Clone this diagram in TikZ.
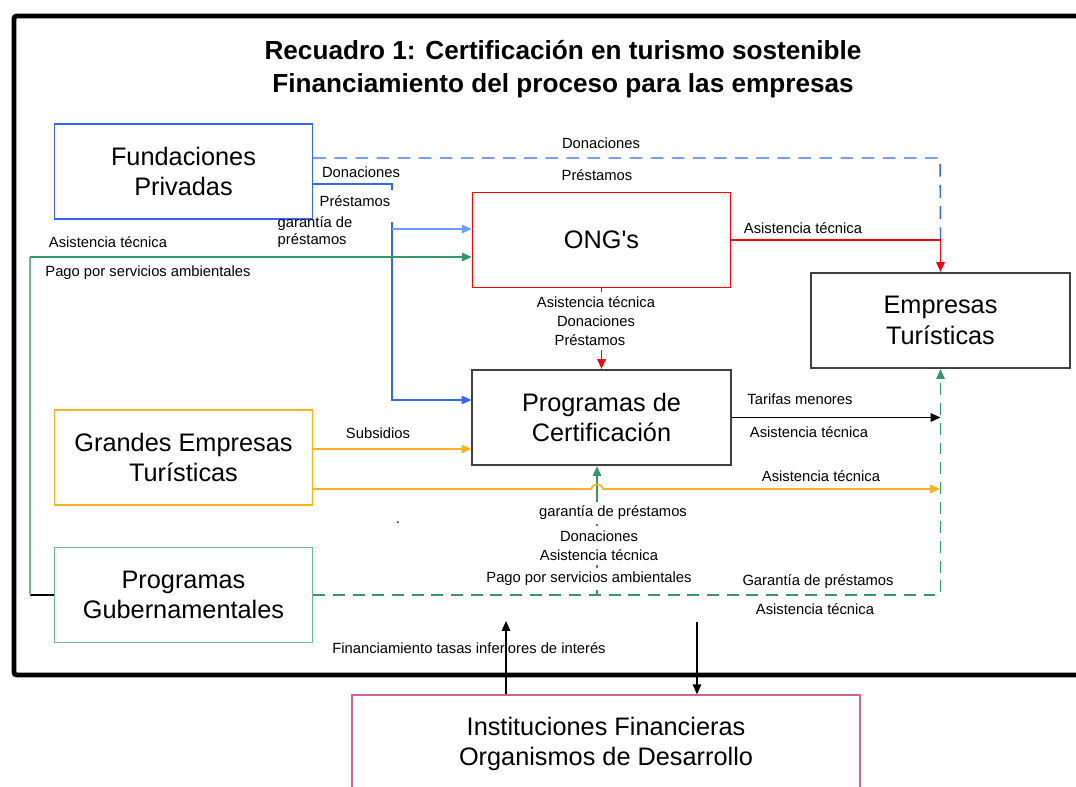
\documentclass[tikz,border=0pt]{standalone}
\usepackage{fontspec}
\setmainfont{Liberation Sans}
\usetikzlibrary{arrows.meta,calc,positioning}

\definecolor{fblue}{RGB}{51,102,255}
\definecolor{lblue}{RGB}{102,160,255}
\definecolor{ngred}{RGB}{255,0,0}
\definecolor{gorange}{RGB}{255,178,30}
\definecolor{ggreen}{RGB}{51,153,102}
\definecolor{lgreen}{RGB}{100,190,140}
\definecolor{boxgray}{RGB}{64,64,64}
\definecolor{ipink}{RGB}{204,102,153}

\tikzset{
    box/.style={draw, rectangle, minimum width=6.45cm, minimum height=2.38cm, align=center,
        inner sep=0pt, font=\fontsize{18}{21.5}\selectfont, line width=1pt},
    graybox/.style={box, draw=boxgray, line width=1.4pt},
    lbl/.style={font=\fontsize{10.5}{12}\selectfont, inner sep=1pt},
    hide/.style={lbl, fill=white, inner ysep=3pt},
    arr/.style={-{Triangle[length=7pt,width=6pt]}},
}

\begin{document}
\begin{tikzpicture}[x=0.025cm, y=-0.025cm]
        \useasboundingbox (0,0) rectangle (1076,787);

        % outer frame (right side runs off the page)
        \draw[line width=3.5pt, rounded corners=2pt] (1085,16) -- (14,16) -- (14,675) -- (1085,675);

        % title
        \node[align=center, font=\fontsize{18.6}{23.5}\selectfont\bfseries] (title) at (563,69)
            {Recuadro 1: Certificación en turismo sostenible\\Financiamiento del proceso para las empresas};

        % the actors
        \node[box, draw=fblue] (fund) at (183.5,171.5) {Fundaciones\\Privadas};
        \node[box, draw=ngred] (ong) at (601.5,240) {ONG\textquotesingle s};
        \node[graybox] (emp) at (940.5,320.5) {Empresas\\Turísticas};
        \node[graybox] (cert) at (601.5,417.5) {Programas de\\Certificación};
        \node[box, draw=gorange] (grandes) at (183.5,457.5) {Grandes Empresas\\Turísticas};
        \node[box, draw=lgreen] (gob) at (183.5,595) {Programas\\Gubernamentales};
        \node[box, draw=ipink, minimum width=12.7cm, minimum height=2.45cm] (inst) at (606,744)
            {Instituciones Financieras\\Organismos de Desarrollo};

        % named coordinates for the bends
        \coordinate (dsh) at (940,158);
        \coordinate (rt) at (emp.north |- ong.east);
        \coordinate (fd1) at (392,184);
        \coordinate (fd2) at (392,190);
        \coordinate (fb1) at (392,222);
        \coordinate (fb2) at (392,229);
        \coordinate (fb3) at (392,400);
        \coordinate (gl1) at (30,595);
        \coordinate (gl2) at (30,257);
        \coordinate (o1) at (472,449);
        \coordinate (o2) at (940,489);
        \coordinate (gv) at (597,595);
        \coordinate (fu) at (506,621);
        \coordinate (fdn) at (697,622);

        % Fundaciones Privadas
        \draw[fblue, line width=1pt, dash pattern=on 9pt off 6pt] (fund.east |- dsh) -- (dsh) -- (rt);
        \draw[fblue, line width=1pt] (fund.east |- fd1) -- (fd1) -- (fd2);
        \draw[fblue, line width=1pt, arr] (fb1) -- (fb3) -- (fb3 -| cert.west);
        \draw[lblue, line width=1.2pt, arr] (fb2) -- (fb2 -| ong.west);

        % ONG's
        \draw[ngred, line width=1pt, arr] (ong.east) -- (rt) -- (emp.north);
        \draw[ngred, line width=1pt, arr] (ong.south) -- (cert.north);

        % Programas Gubernamentales
        \draw[line width=1pt] (gob.west) -- (gl1);
        \draw[lgreen, line width=1pt] (gl1) -- (gl2);
        \draw[ggreen, line width=1pt, arr] (gl2) -- (gl2 -| ong.west);
        \draw[ggreen, line width=1pt, dash pattern=on 8.5pt off 5.5pt, arr] (gob.east) -- (gob.east -| emp.south) -- (emp.south);
        \draw[ggreen, line width=1pt, arr] (gv) -- (gv |- cert.south);

        % Grandes Empresas and Programas de Certificacion
        \draw[gorange, line width=1.2pt, arr] (grandes.east |- o1) -- (o1 -| cert.west);
        \draw[gorange, line width=1.2pt, arr] (grandes.east |- o2) -- (591,489)
            .. controls (591,483) and (603,483) .. (603,489) -- (o2);
        \draw[line width=1pt, arr] (cert.east) -- (cert.east -| emp.south);

        % Instituciones Financieras
        \draw[line width=1pt, arr] (inst.north -| fu) -- (fu);
        \draw[line width=1pt, arr] (fdn) -- (fdn |- inst.north);

        % labels
        \node[lbl] (l1) at (601,143) {Donaciones};
        \node[lbl] (l2) at (597,175) {Préstamos};
        \node[lbl] (l3) at (361,172) {Donaciones};
        \node[lbl] (l4) at (355,201) {Préstamos};
        \node[lbl, align=left, anchor=west] (l5) at (276,232) {garantía de\\préstamos};
        \node[lbl] (l6) at (108,242) {Asistencia técnica};
        \node[lbl] (l7) at (148,273) {Pago por servicios ambientales};
        \node[lbl] (l8) at (803,228) {Asistencia técnica};
        \node[hide] (l9) at (596,302) {Asistencia técnica};
        \node[hide] (l10) at (596,321) {Donaciones};
        \node[hide] (l11) at (590,340) {Préstamos};
        \node[lbl] (l12) at (378,433) {Subsidios};
        \node[lbl] (l13) at (800,399) {Tarifas menores};
        \node[lbl] (l14) at (809,432) {Asistencia técnica};
        \node[lbl] (l15) at (821,476) {Asistencia técnica};
        \node[hide] (l16) at (613,513) {garantía de préstamos};
        \node[hide] (l17) at (599,536) {Donaciones};
        \node[hide] (l18) at (599,555) {Asistencia técnica};
        \node[hide] (l19) at (589,579) {Pago por servicios ambientales};
        \node[lbl] (l20) at (818,582) {Garantía de préstamos};
        \node[lbl] (l21) at (815,609) {Asistencia técnica};
        \node[lbl] (l22) at (469,648) {Financiamiento tasas inferiores de interés};
        \node[lbl, anchor=base] (dot) at (398,523) {.};

    \end{tikzpicture}
\end{document}
